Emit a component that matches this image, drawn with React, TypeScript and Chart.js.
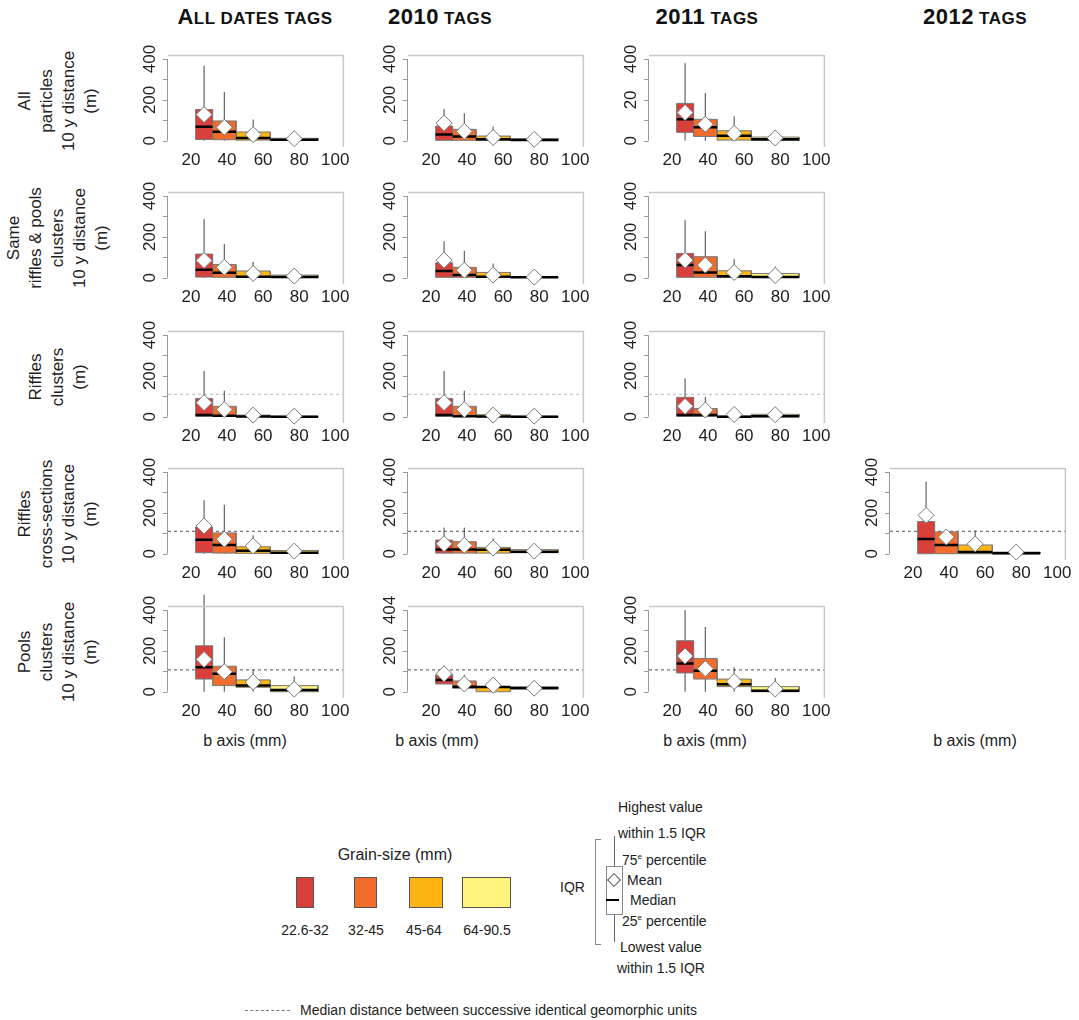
import React, { useEffect, useRef } from "react";
import { Chart, registerables } from "chart.js";
Chart.register(...registerables);

// grain-size classes (mm)
const classBounds = [22.6, 32, 45, 64, 90.5];
const classLabels = ["22.6-32", "32-45", "45-64", "64-90.5"];
const classColors = ["#D9403B", "#F26C2C", "#FDB515", "#FFF37E"];
const xTicks = [20, 40, 60, 80, 100];

// each row: [lowest, q1, median, q3, highest, mean] in metres
const allParticles_allDates = [[0, 6, 69, 153, 367, 128], [0, 5, 44, 97, 239, 66], [0, 3, 13, 43, 104, 30], [0, 2, 5, 12, 20, 10]];
const allParticles_2010 = [[0, 2, 31, 72, 156, 86], [0, 2, 21, 56, 135, 46], [0, 1, 7, 23, 69, 16], [0, 1, 3, 10, 15, 7]];
const allParticles_2011 = [[0, 41, 105, 183, 380, 138], [0, 21, 66, 105, 234, 81], [0, 3, 25, 49, 120, 36], [0, 1, 7, 18, 33, 13]];
const sameUnits_allDates = [[0, 3, 39, 116, 287, 85], [0, 2, 24, 65, 165, 51], [0, 1, 5, 33, 78, 21], [0, 1, 3, 13, 20, 8]];
const sameUnits_2010 = [[0, 2, 33, 73, 179, 86], [0, 2, 13, 51, 132, 37], [0, 1, 5, 26, 70, 13], [0, 1, 2, 3, 10, 3]];
const sameUnits_2011 = [[0, 2, 62, 119, 282, 86], [0, 2, 26, 103, 228, 62], [0, 1, 7, 34, 91, 26], [0, 1, 3, 21, 55, 11]];
const rifflesClusters_allDates = [[0, 2, 8, 89, 224, 69], [0, 1, 5, 51, 127, 35], [0, 0, 1, 8, 31, 8], [0, 0, 0, 2, 5, 3]];
const rifflesClusters_2010 = [[0, 2, 8, 89, 224, 69], [0, 1, 2, 51, 127, 35], [0, 0, 1, 10, 31, 8], [0, 0, 0, 2, 5, 3]];
const rifflesClusters_2011 = [[0, 2, 8, 95, 188, 51], [0, 2, 8, 40, 97, 33], [0, 0, 0, 3, 8, 11], [0, 0, 2, 12, 15, 10]];
const rifflesXs_allDates = [[0, 5, 69, 131, 262, 136], [0, 3, 43, 102, 240, 71], [0, 2, 15, 34, 90, 38], [0, 2, 5, 16, 25, 13]];
const rifflesXs_2010 = [[0, 3, 21, 67, 128, 49], [0, 3, 21, 59, 128, 41], [0, 3, 20, 31, 75, 28], [0, 5, 10, 20, 25, 13]];
const rifflesXs_2012 = [[0, 0, 72, 158, 353, 188], [0, 0, 43, 107, 107, 82], [0, 0, 8, 43, 114, 48], [0, 0, 2, 8, 10, 8]];
const pools_allDates = [[0, 62, 120, 225, 475, 158], [0, 30, 88, 125, 267, 98], [0, 22, 30, 58, 108, 47], [0, 0, 8, 30, 75, 13]];
const pools_2010 = [[38, 38, 57, 83, 128, 88], [10, 17, 25, 53, 83, 38], [0, 0, 23, 25, 67, 32], [13, 13, 18, 23, 23, 17]];
const pools_2011 = [[0, 92, 138, 250, 400, 175], [0, 62, 103, 163, 317, 113], [0, 25, 37, 62, 120, 50], [0, 0, 5, 25, 67, 13]];

// median distance between successive identical geomorphic units (m)
const medianUnitDistance = [null, null, 110, 110, 107];

const yTickValues = [0, 200, 400];
const yLabelsDefault = ["0", "200", "400"];
const yLabels2011All = ["0", "20", "400"];
const yLabelsPools2010 = ["0", "200", "404"];

const colTitles = [["A", "LL DATES TAGS"], ["2010", " TAGS"], ["2011", " TAGS"], ["2012", " TAGS"]];
const rowLabels = [
  ["All", "particles", "10 y distance", "(m)"],
  ["Same", "riffles & pools", "clusters", "10 y distance", "(m)"],
  ["Riffles", "clusters", "(m)"],
  ["Riffles", "cross-sections", "10 y distance", "(m)"],
  ["Pools", "clusters", "10 y distance", "(m)"],
];

const FONT = "'Liberation Sans Narrow', 'Liberation Sans', Arial, sans-serif";
const FONT2 = "'Liberation Sans', Arial, sans-serif";

type PanelSpec = { row: number; col: number; stats: number[][]; yLabels: string[] };
const panels: PanelSpec[] = [
  { row: 0, col: 0, stats: allParticles_allDates, yLabels: yLabelsDefault },
  { row: 0, col: 1, stats: allParticles_2010, yLabels: yLabelsDefault },
  { row: 0, col: 2, stats: allParticles_2011, yLabels: yLabels2011All },
  { row: 1, col: 0, stats: sameUnits_allDates, yLabels: yLabelsDefault },
  { row: 1, col: 1, stats: sameUnits_2010, yLabels: yLabelsDefault },
  { row: 1, col: 2, stats: sameUnits_2011, yLabels: yLabelsDefault },
  { row: 2, col: 0, stats: rifflesClusters_allDates, yLabels: yLabelsDefault },
  { row: 2, col: 1, stats: rifflesClusters_2010, yLabels: yLabelsDefault },
  { row: 2, col: 2, stats: rifflesClusters_2011, yLabels: yLabelsDefault },
  { row: 3, col: 0, stats: rifflesXs_allDates, yLabels: yLabelsDefault },
  { row: 3, col: 1, stats: rifflesXs_2010, yLabels: yLabelsDefault },
  { row: 3, col: 3, stats: rifflesXs_2012, yLabels: yLabelsDefault },
  { row: 4, col: 0, stats: pools_allDates, yLabels: yLabelsDefault },
  { row: 4, col: 1, stats: pools_2010, yLabels: yLabelsPools2010 },
  { row: 4, col: 2, stats: pools_2011, yLabels: yLabelsDefault },
];

const rowY0 = [141, 278, 417, 554, 692];
const colAxisX = [168, 408, 649, 890];
const Y_MIN = -16, Y_MAX = 420;
const PLOT_H = 89;
const X_FIT = 26;
const Y_FIT = 30;
const PAD_R = 12;
const PAD_T = 16;
const X_MIN = 7.3, X_MAX = 104.5;
const PLOT_W = 176;

function Panel({ spec }: { spec: PanelSpec }) {
  const ref = useRef<HTMLCanvasElement>(null);
  const width = Y_FIT + PLOT_W + PAD_R;
  const height = PAD_T + PLOT_H + X_FIT;
  const y0 = rowY0[spec.row];
  const top = y0 - Math.round(PLOT_H * (Y_MAX / (Y_MAX - Y_MIN))) - PAD_T;
  const left = colAxisX[spec.col] - Y_FIT;
  useEffect(() => {
    const ds: any[] = [];
    const dash = medianUnitDistance[spec.row];
    if (dash !== null) {
      ds.push({
        data: [{ x: X_MIN, y: dash }, { x: X_MAX, y: dash }],
        borderColor: spec.row === 2 ? "#bbbbbb" : "#555555",
        borderWidth: 1, borderDash: [3, 3], pointRadius: 0, order: 9,
      });
    }
    spec.stats.forEach((s, i) => {
      const [lo, q1, med, q3, hi, mean] = s;
      const a = classBounds[i], b = classBounds[i + 1], m = (a + b) / 2;
      ds.push({ data: [{ x: m, y: lo }, { x: m, y: hi }], borderColor: "#444", borderWidth: 1, pointRadius: 0, order: 8, clip: false });
      ds.push({ data: [{ x: a, y: q3 }, { x: b, y: q3 }], borderWidth: 0, borderColor: "rgba(0,0,0,0)", backgroundColor: classColors[i], fill: { value: q1 }, pointRadius: 0, order: 7 });
      ds.push({ data: [{ x: a, y: q1 }, { x: a, y: q3 }, { x: b, y: q3 }, { x: b, y: q1 }, { x: a, y: q1 }], borderColor: "#777", borderWidth: 1, pointRadius: 0, order: 6 });
      ds.push({ data: [{ x: a, y: med }, { x: b, y: med }], borderColor: "#000", borderWidth: 2.5, pointRadius: 0, order: 5 });
      ds.push({ data: [{ x: m, y: mean }], showLine: false, pointStyle: "rectRot", pointRadius: 8, pointBackgroundColor: "#fff", pointBorderColor: "#777", pointBorderWidth: 1, order: 1, clip: false });
    });
    const axisPlugin = {
      id: "rAxis",
      afterDraw(chart: any) {
        const ctx = chart.ctx;
        const y = chart.scales.y;
        const ca = chart.chartArea;
        ctx.save();
        ctx.strokeStyle = "#c8c8c8";
        ctx.lineWidth = 1.5;
        ctx.beginPath();
        ctx.moveTo(ca.left, ca.top + 0.5);
        ctx.lineTo(ca.right, ca.top + 0.5);
        ctx.moveTo(ca.right, ca.top);
        ctx.lineTo(ca.right, ca.bottom + 3);
        ctx.stroke();
        ctx.strokeStyle = "#999";
        ctx.lineWidth = 1;
        ctx.beginPath();
        ctx.moveTo(ca.left - 0.5, y.getPixelForValue(0));
        ctx.lineTo(ca.left - 0.5, y.getPixelForValue(400));
        [0, 100, 200, 300, 400].forEach((v) => {
          const p = Math.round(y.getPixelForValue(v)) + 0.5;
          ctx.moveTo(ca.left - 0.5, p);
          ctx.lineTo(ca.left - 5, p);
        });
        ctx.stroke();
        ctx.fillStyle = "#222";
        ctx.font = `17px ${FONT}`;
        ctx.textAlign = "center";
        ctx.textBaseline = "middle";
        yTickValues.forEach((v, k) => {
          ctx.save();
          ctx.translate(ca.left - 18, y.getPixelForValue(v));
          ctx.rotate(-Math.PI / 2);
          ctx.fillText(spec.yLabels[k], 0, 0);
          ctx.restore();
        });
        ctx.restore();
      },
    };
    const chart = new Chart(ref.current!, {
      type: "line",
      data: { datasets: ds },
      plugins: [axisPlugin],
      options: {
        animation: false,
        responsive: false,
        devicePixelRatio: 1,
        layout: { padding: { left: 0, right: PAD_R, top: PAD_T, bottom: 0 } },
        plugins: { legend: { display: false }, tooltip: { enabled: false } },
        scales: {
          x: {
            type: "linear", min: X_MIN, max: X_MAX,
            afterBuildTicks: (s: any) => { s.ticks = xTicks.map((v) => ({ value: v })); },
            afterFit: (s: any) => { s.height = X_FIT; },
            grid: { display: false, drawTicks: false },
            border: { display: false },
            ticks: { autoSkip: false, maxRotation: 0, padding: 6, color: "#222", font: { family: FONT, size: 17 } },
          },
          y: {
            type: "linear", min: Y_MIN, max: Y_MAX,
            afterFit: (s: any) => { s.width = Y_FIT; },
            grid: { display: false, drawTicks: false },
            border: { display: false },
            ticks: { display: false },
          },
        },
      } as any,
    });
    return () => chart.destroy();
  }, []);
  return <canvas ref={ref} width={width} height={height} style={{ position: "absolute", left, top, width, height }} />;
}

const abs = (x: number, y: number, extra: any = {}) => ({ position: "absolute" as const, left: x, top: y, ...extra });

export default function App() {
  const titleX = [255, 440, 707, 975];
  const bAxisX = [245, 437, 705, 975];
  const swatches = [[296, 18], [354, 23], [409, 34], [462, 49]];
  const swLabelX = [305, 366, 424, 487];
  return (
    <div style={{ position: "absolute", left: 0, top: 0, width: 1079, height: 1020, background: "#fff", fontFamily: FONT2, color: "#222" }}>
      {colTitles.map(([big, small], i) => (
        <div key={i} style={abs(titleX[i], 17, { transform: "translate(-50%,-50%)", fontWeight: "bold", whiteSpace: "nowrap", color: "#111", letterSpacing: 0.5 })}>
          <span style={{ fontSize: 22 }}>{big}</span><span style={{ fontSize: 17 }}>{small}</span>
        </div>
      ))}
      {rowLabels.map((lines, r) => (
        <div key={r} style={abs(58, rowY0[r] - 40, { transform: "translate(-50%,-50%) rotate(-90deg)", fontSize: 17, lineHeight: "22px", textAlign: "center", whiteSpace: "nowrap", fontFamily: FONT })}>
          {lines.map((l, k) => <div key={k}>{l}</div>)}
        </div>
      ))}
      {panels.map((p) => <Panel key={p.row + "-" + p.col} spec={p} />)}
      {bAxisX.map((x, i) => (
        <div key={i} style={abs(x, 741, { transform: "translate(-50%,-50%)", fontSize: 16, whiteSpace: "nowrap" })}>b axis (mm)</div>
      ))}
      <div style={abs(395, 855, { transform: "translate(-50%,-50%)", fontSize: 16, whiteSpace: "nowrap" })}>Grain-size (mm)</div>
      {swatches.map(([x, w], i) => (
        <div key={i} style={abs(x, 877, { width: w, height: 31, background: classColors[i], border: "1px solid #555", boxSizing: "border-box" })} />
      ))}
      {classLabels.map((l, i) => (
        <div key={l} style={abs(swLabelX[i], 930, { transform: "translate(-50%,-50%)", fontSize: 14, whiteSpace: "nowrap" })}>{l}</div>
      ))}
      {/* box legend */}
      <div style={abs(595, 839, { width: 5, height: 104, borderLeft: "1px solid #888", borderTop: "1px solid #888", borderBottom: "1px solid #888" })} />
      <div style={abs(614, 836, { width: 1, height: 106, background: "#666" })} />
      <div style={abs(606, 866, { width: 17, height: 49, background: "#fff", border: "1px solid #888", boxSizing: "border-box" })} />
      <div style={abs(609, 875, { width: 8, height: 8, border: "1px solid #555", transform: "rotate(45deg)", background: "#fff" })} />
      <div style={abs(606, 899, { width: 13, height: 2, background: "#000" })} />
      <div style={abs(560, 887, { transform: "translateY(-50%)", fontSize: 14 })}>IQR</div>
      {[
        [618, 807, "Highest value"], [618, 833, "within 1.5 IQR"], [627, 880, "Mean"], [630, 900, "Median"],
        [620, 947, "Lowest value"], [617, 968, "within 1.5 IQR"],
      ].map(([x, y, t]) => (
        <div key={String(t) + y} style={abs(x as number, y as number, { transform: "translateY(-50%)", fontSize: 14, whiteSpace: "nowrap" })}>{t}</div>
      ))}
      <div style={abs(622, 860, { transform: "translateY(-50%)", fontSize: 14, whiteSpace: "nowrap" })}>75<sup style={{ fontSize: 8 }}>e</sup> percentile</div>
      <div style={abs(622, 921, { transform: "translateY(-50%)", fontSize: 14, whiteSpace: "nowrap" })}>25<sup style={{ fontSize: 8 }}>e</sup> percentile</div>
      <div style={abs(245, 1010, { width: 45, borderTop: "1px dashed #777" })} />
      <div style={abs(300, 1010, { transform: "translateY(-50%)", fontSize: 14, whiteSpace: "nowrap" })}>Median distance between successive identical geomorphic units</div>
    </div>
  );
}
